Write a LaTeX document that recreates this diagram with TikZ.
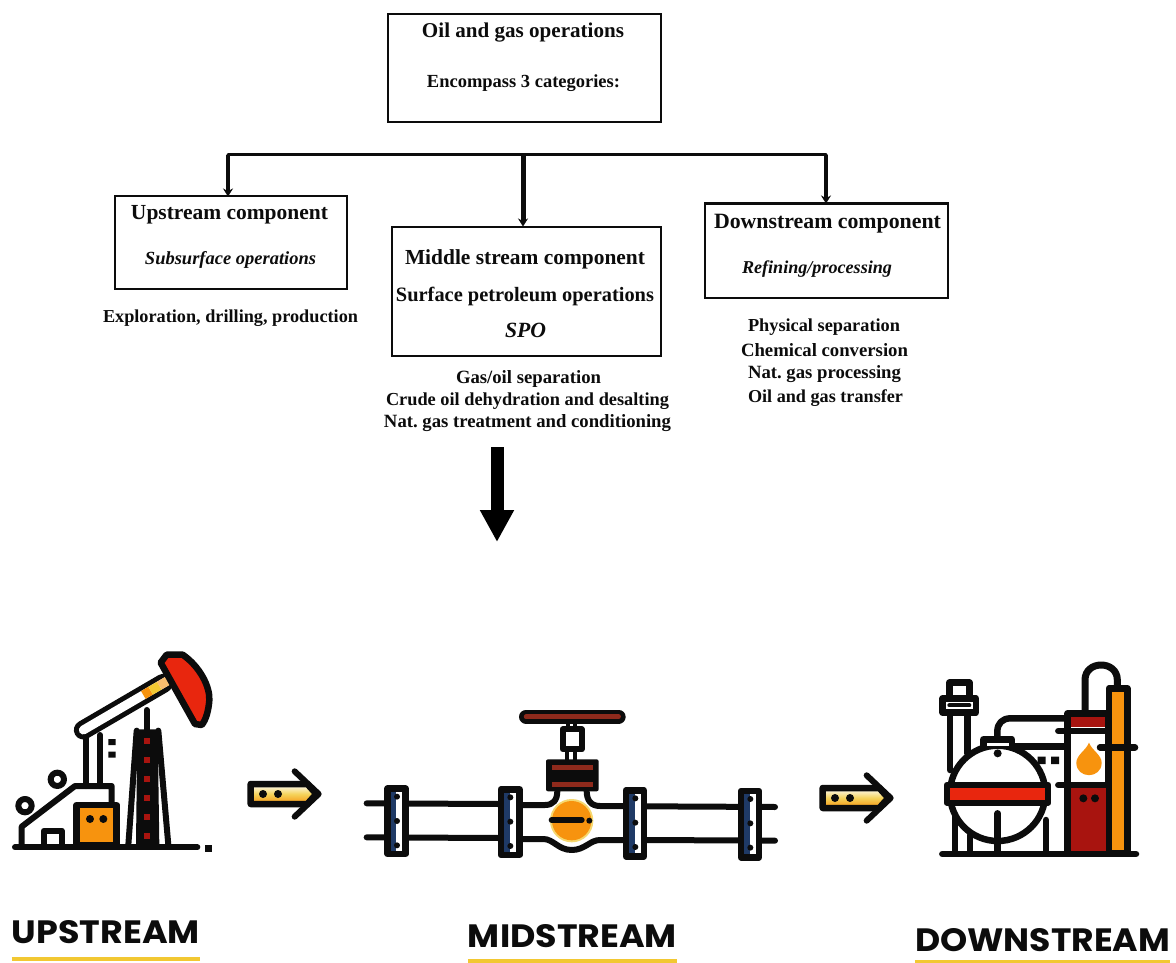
\documentclass[tikz,border=0pt]{standalone}
\usepackage{fontspec}
\usepackage{graphicx}
\setmainfont{Liberation Serif}
\newfontfamily\labelfont{Poppins}
\usetikzlibrary{arrows.meta}
\definecolor{cred}{HTML}{E8260E}
\definecolor{corange}{HTML}{F7930E}
\definecolor{cdark}{HTML}{A8140F}
\definecolor{cnavy}{HTML}{1F3A66}
\definecolor{cyel}{HTML}{F2C832}
\definecolor{cbrown}{HTML}{8E2A1C}
\definecolor{cink}{HTML}{0C0C0C}
\newcommand{\fitw}[2]{\resizebox{#1pt}{!}{\frenchspacing\bfseries #2}}
\newcommand{\fitwi}[2]{\resizebox{#1pt}{!}{\bfseries\itshape #2}}
\newcommand{\fitl}[2]{\resizebox{#1pt}{23pt}{\labelfont\bfseries #2}}
\tikzset{
  boxnode/.style={draw=cink,line width=2pt,fill=white,inner sep=0pt,outer sep=0pt,anchor=north west},
  txt/.style={inner sep=0pt,text=cink,font=\fontsize{20pt}{24pt}\selectfont,yshift=-2pt},
  bus/.style={draw=cink,line width=3pt},
  drop/.style={draw=cink,-{Stealth[length=8pt,width=10pt]}},
  bigarrow/.style={draw=black,line width=13pt,-{Triangle[length=32pt,width=32pt]}},
  ink/.style={draw=cink,line join=round,line cap=round},
  stagelabel/.style={inner sep=0pt,text=cink,font=\fontsize{32pt}{36pt}\selectfont},
  rule/.style={draw=cyel,line width=3.5pt},
  zoomA/.style={shift={(0pt,-640pt)},x=0.33333pt,y=-0.33333pt},
  zoomB/.style={shift={(350pt,-690pt)},x=0.33333pt,y=-0.33333pt},
  zoomC/.style={shift={(810pt,-650pt)},x=0.33333pt,y=-0.33333pt},
}
\newcommand{\flowarrow}[2]{%
  \begin{scope}[shift={(#1pt,-#2pt)},x=0.33333pt,y=-0.33333pt]
    \path[ink,line width=6.5pt,top color=white,bottom color=corange,middle color=cyel!80!white]
      (8,-30) -- (178,-30) -- (205,0) -- (178,30) -- (8,30) -- cycle;
    \draw[ink,line width=6pt] (140,-68) -- (212,0) -- (140,68);
    \fill[cink] (45,0) circle (12) (90,0) circle (12);
  \end{scope}}
\newcommand{\flange}[4]{% x0 y0 x1 y1
  \fill[white] (#1,#2) rectangle (#3,#4);
  \fill[cnavy] (#1+8,#2) rectangle (#1+34,#4);
  \draw[ink,line width=6.5pt] (#1+8,#2+8) rectangle (#3-8,#4-8);
  \fill[cink] (#1+36,#2+32) circle (9) (#1+36,#2+105) circle (9) (#1+36,#2+178) circle (9);}
\begin{document}
\begin{tikzpicture}[x=1pt,y=-1pt]
\useasboundingbox (0,0) rectangle (1176,963);
\fill[white] (0,0) rectangle (1176,963);

% ---------- tree ----------
\node[boxnode,minimum width=273pt,minimum height=108pt] (top) at (387.5,14.5) {};
\node[boxnode,minimum width=232pt,minimum height=92pt] (up) at (114.5,196.5) {};
\node[boxnode,minimum width=269pt,minimum height=129pt] (mid) at (391.5,226.5) {};
\node[boxnode,minimum width=243pt,minimum height=94pt] (down) at (704.5,203.5) {};

\node[txt] (t1) at (523,31) {\fitw{202}{Oil and gas operations}};
\node[txt] (t2) at (523.5,81) {\fitw{193}{Encompass 3 categories:}};
\node[txt] (u1) at (229.5,213) {\fitw{197}{Upstream component}};
\node[txt] (u2) at (230.5,258) {\fitwi{171}{Subsurface operations}};
\node[txt] (u3) at (230.5,316) {\fitw{255}{Exploration, drilling, production}};
\node[txt] (m1) at (525,257) {\fitw{240}{Middle stream component}};
\node[txt] (m2) at (525,294) {\fitw{258}{Surface petroleum operations}};
\node[txt] (m3) at (525.5,328) {\fitwi{41}{SPO}};
\node[txt] (m4) at (528.5,377) {\fitw{145}{Gas/oil separation}};
\node[txt] (m5) at (527.5,399) {\fitw{283}{Crude oil dehydration and desalting}};
\node[txt] (m6) at (527.5,421) {\fitw{287}{Nat. gas treatment and conditioning}};
\node[txt] (d1) at (827.5,222) {\fitw{227}{Downstream component}};
\node[txt] (d2) at (817,267) {\fitwi{150}{Refining/processing}};
\node[txt] (d3) at (824,325) {\fitw{152}{Physical separation}};
\node[txt] (d4) at (824.5,348) {\fitw{167}{Chemical conversion}};
\node[txt] (d5) at (824.5,372) {\fitw{153}{Nat. gas processing}};
\node[txt] (d6) at (825.5,396) {\fitw{155}{Oil and gas transfer}};

\coordinate (busL) at (228,155);
\coordinate (busM) at (523,155);
\coordinate (busR) at (826,155);
\coordinate (bigS) at (497,447);
\coordinate (bigE) at (497,542);
\draw[bus,line cap=round] (busL) -- (busR);
\draw[drop,line width=4pt] (busL) -- (up.north -| busL);
\draw[drop,line width=5pt] (busM) -- (mid.north -| busM);
\draw[drop,line width=4pt] (busR) -- (down.north -| busR);
\draw[bigarrow] (bigS) -- (bigE);

% ---------- pump jack ----------
\begin{scope}[zoomA]
  % frame
  \draw[ink,line width=6pt] (65,612) -- (65,560) -- (225,438) -- (335,438) -- (335,495);
  \draw[ink,line width=6pt] (132,612) -- (132,572) -- (185,572) -- (185,612);
  \draw[ink,line width=6pt] (75,497) circle (20);
  \draw[ink,line width=6pt] (172,418) circle (20);
  \draw[ink,line width=6pt] (258,285) -- (258,438);
  \draw[ink,line width=6pt] (300,285) -- (300,438);
  \fill[cink] (325,297) rectangle (347,315) (325,335) rectangle (347,353);
  % engine box
  \draw[ink,line width=6.5pt,fill=corange] (230,495) rectangle (350,615);
  \fill[cink] (270,537) circle (12) (310,537) circle (12);
  % beam
  \draw[cink,line width=19pt,line cap=round] (250,270) -- (490,130);
  \draw[white,line width=9pt,line cap=round] (250,270) -- (505,121);
  \draw[corange,line width=9pt] (430,165) -- (452,152);
  \draw[cyel,line width=9pt] (452,152) -- (478,137);
  \draw[corange!60!white,line width=9pt] (478,137) -- (505,121);
  % tie rod
  \draw[ink,line width=6pt] (440,210) -- (440,272);
  % head
  \draw[ink,line width=6.5pt,fill=cred] (482,68) -- (500,44) -- (548,44)
    .. controls (600,80) and (630,140) .. (628,180)
    .. controls (626,210) and (618,240) .. (605,255) -- (585,252) -- cycle;
  % derrick
  \draw[ink,line width=6pt] (410,272) -- (385,615);
  \draw[ink,line width=6pt] (475,272) -- (505,615);
  \fill[cink] (412,268) -- (473,268) -- (478,615) -- (408,615) -- cycle;
  \draw[cdark,line width=6pt,dash pattern=on 6pt off 13pt] (442,295) -- (442,612);
  % ground
  \draw[ink,line width=6pt] (45,622) -- (592,622);
  \fill[cink] (615,616) rectangle (637,636);
\end{scope}

% ---------- valve line ----------
\begin{scope}[zoomB]
  \draw[ink,line width=6pt] (50,340) -- (445,342);
  \draw[ink,line width=6pt] (50,442) -- (445,444);
  \draw[ink,line width=6pt] (890,349) -- (1275,351);
  \draw[ink,line width=6pt] (890,450) -- (1275,452);
  \draw[ink,line width=6pt] (517,345) -- (585,345)
    .. controls (610,345) and (622,330) .. (622,302);
  \draw[ink,line width=6pt] (710,302)
    .. controls (710,330) and (722,348) .. (750,348) -- (820,348);
  \draw[ink,line width=6pt] (517,447) -- (580,447)
    .. controls (610,447) and (625,480) .. (665,480)
    .. controls (705,480) and (720,450) .. (750,450) -- (820,450);
  \fill[cyel!70!white] (665,392) circle (65);
  \fill[corange] (665,392) circle (59);
  \draw[ink,line width=6pt] (605,390) -- (695,390);
  \fill[cink] (718,392) circle (9);
  \flange{105}{288}{175}{500}
  \flange{445}{290}{517}{503}
  \flange{820}{293}{890}{507}
  \flange{1165}{295}{1235}{510}
  % bonnet
  \fill[cink,rounded corners=2pt] (588,208) rectangle (746,304);
  \draw[cbrown,line width=5pt] (606,232) -- (730,232);
  \draw[cbrown,line width=5pt] (606,283) -- (730,283);
  % stem
  \draw[ink,line width=4pt] (652,178) -- (652,208);
  \draw[ink,line width=4pt] (676,178) -- (676,208);
  \draw[ink,line width=4pt] (654,98) -- (654,118);
  \draw[ink,line width=4pt] (674,98) -- (674,118);
  \draw[ink,line width=6pt,fill=white] (638,118) rectangle (695,178);
  % handle
  \draw[cink,line width=14pt,line cap=round] (528,80) -- (806,80);
  \draw[cbrown,line width=4.5pt,line cap=round] (528,80) -- (806,80);
\end{scope}

% ---------- refinery ----------
\begin{scope}[zoomC]
  % stack
  \draw[ink,line width=6.5pt] (420,190) -- (420,360);
  \draw[ink,line width=6.5pt] (472,190) -- (472,310);
  \draw[ink,line width=6.5pt,fill=white] (418,145) -- (418,98) -- (478,98) -- (478,145);
  \draw[ink,line width=6.5pt,fill=white] (398,145) rectangle (498,188);
  \draw[ink,line width=4pt] (418,166) -- (478,166);
  % pipes
  \draw[ink,line width=6.5pt] (562,265) -- (562,245)
    .. controls (562,220) and (577,205) .. (602,205) -- (770,205);
  \draw[ink,line width=6.5pt] (610,290) -- (770,290);
  \fill[cink] (683,320) rectangle (707,342) (723,320) rectangle (747,342);
  % legs
  \draw[ink,line width=6.5pt] (435,500) -- (435,610);
  \draw[ink,line width=6.5pt] (480,555) -- (480,610);
  \draw[ink,line width=6.5pt] (708,510) -- (708,610);
  % vessel
  \draw[ink,line width=6.5pt,fill=white] (563,430) circle (143);
  \draw[ink,line width=6.5pt,fill=white] (520,288) -- (520,268) -- (606,268) -- (606,288);
  \fill[cink] (563,310) circle (12);
  \draw[ink,line width=6.5pt] (563,490) -- (563,610);
  \draw[ink,line width=6pt,fill=cred] (410,405) rectangle (715,458);
  % tower
  \draw[ink,line width=6.5pt,fill=white] (773,190) rectangle (895,610);
  \fill[cdark] (783,200) rectangle (885,232);
  \fill[cdark] (783,415) rectangle (888,603);
  \draw[ink,line width=6.5pt] (745,243) -- (885,243);
  \draw[ink,line width=6.5pt] (745,405) -- (885,405);
  \fill[cink] (820,445) circle (12) (855,445) circle (12);
  \fill[corange] (837,278) .. controls (845,300) and (875,315) .. (875,338)
    .. controls (875,388) and (799,388) .. (799,338)
    .. controls (799,315) and (829,300) .. (837,278) -- cycle;
  % arch
  \draw[ink,line width=7pt] (825,187) -- (825,90)
    .. controls (825,30) and (922,30) .. (922,90) -- (922,108);
  % orange column
  \draw[ink,line width=6.5pt,fill=corange] (897,115) rectangle (952,610);
  \draw[ink,line width=6.5pt] (870,292) -- (975,292);
  % ground
  \draw[ink,line width=6.5pt] (397,612) -- (978,612);
\end{scope}

% ---------- flow arrows ----------
\flowarrow{248}{794}
\flowarrow{820}{798}

% ---------- stage labels ----------
\node[stagelabel] (lu) at (106,932) {\fitl{188}{UPSTREAM}};
\node[stagelabel] (lm) at (572.5,936) {\fitl{209}{MIDSTREAM}};
\node[stagelabel] (ld) at (1042.5,940) {\fitl{255}{DOWNSTREAM}};
\draw[rule] (lu.west |- 0,959) -- (lu.east |- 0,959);
\draw[rule] (lm.west |- 0,961) -- (lm.east |- 0,961);
\draw[rule] (ld.west |- 0,962) -- (ld.east |- 0,962);
\end{tikzpicture}
\end{document}
